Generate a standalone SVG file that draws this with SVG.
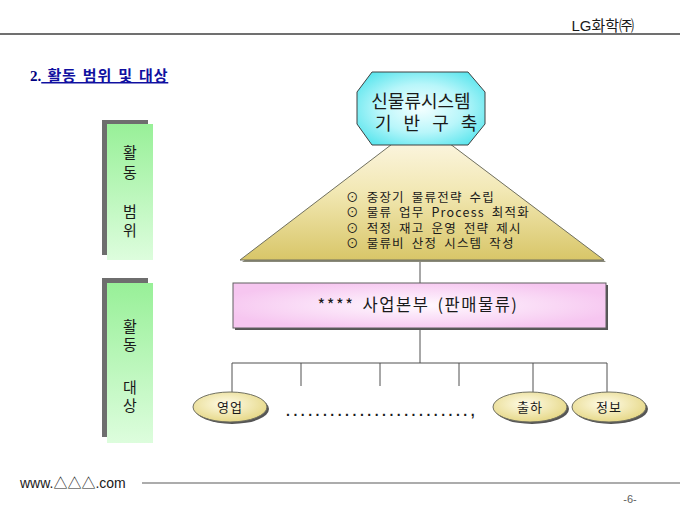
<svg xmlns="http://www.w3.org/2000/svg" width="680" height="510" viewBox="0 0 680 510">
<defs>
<style>
.k{font-family:"Noto Sans CJK KR","Liberation Sans",sans-serif;fill:#1a1a1a}
.ln{stroke:#505050;stroke-width:1;fill:none}
.sh{fill:#6e6e6e}
</style>
<radialGradient id="gOct" cx="50%" cy="50%" r="60%">
<stop offset="0" stop-color="#f4ffff"/>
<stop offset="0.55" stop-color="#b8f6fa"/>
<stop offset="1" stop-color="#5ee6ee"/>
</radialGradient>
<linearGradient id="gTri" x1="0" y1="0" x2="0" y2="1">
<stop offset="0" stop-color="#fffaf0"/>
<stop offset="0.5" stop-color="#f2e8b4"/>
<stop offset="1" stop-color="#d8c668"/>
</linearGradient>
<radialGradient id="gPink" cx="50%" cy="50%" r="55%">
<stop offset="0" stop-color="#fffaff"/>
<stop offset="1" stop-color="#f6c6f0"/>
</radialGradient>
<linearGradient id="gGreen" x1="0" y1="0" x2="0" y2="1">
<stop offset="0" stop-color="#98f098"/>
<stop offset="1" stop-color="#ddfddd"/>
</linearGradient>
<radialGradient id="gOval" cx="45%" cy="40%" r="60%">
<stop offset="0" stop-color="#fffce8"/>
<stop offset="1" stop-color="#e6d888"/>
</radialGradient>
</defs>

<!-- header -->
<text x="634" y="31" text-anchor="end" font-family="Liberation Sans, Noto Sans CJK KR, sans-serif" font-size="15" fill="#1a1a1a">LG화학㈜</text>
<line x1="0" y1="34" x2="680" y2="34" stroke="#404040" stroke-width="1.5"/>

<!-- title -->
<text x="30" y="81" font-size="15" font-weight="bold" fill="#000080"><tspan font-family="Liberation Serif, serif">2.</tspan><tspan font-family="Noto Sans CJK KR, sans-serif" fill="#1010a0" text-decoration="underline" letter-spacing="0.8" word-spacing="2"> 활동 범위 및 대상</tspan></text>

<!-- left boxes -->
<g id="scope">
<rect class="sh" x="102" y="120" width="46" height="135" fill="#808080"/>
<rect x="107" y="124" width="46" height="136" fill="url(#gGreen)"/>
<text class="k" font-size="15" text-anchor="middle"><tspan x="130" y="158">활</tspan><tspan x="130" y="178">동</tspan><tspan x="130" y="217">범</tspan><tspan x="130" y="236">위</tspan></text>
</g>
<g id="target">
<rect class="sh" x="102" y="278" width="46" height="159" fill="#808080"/>
<rect x="107" y="283" width="46" height="160" fill="url(#gGreen)"/>
<text class="k" font-size="15" text-anchor="middle"><tspan x="130" y="332">활</tspan><tspan x="130" y="350">동</tspan><tspan x="130" y="393">대</tspan><tspan x="130" y="411">상</tspan></text>
</g>

<!-- connectors -->
<g id="connectors" class="ln">
<line x1="420" y1="260" x2="420" y2="283"/>
<line x1="420" y1="330" x2="420" y2="363"/>
<line x1="232" y1="363" x2="607" y2="363"/>
<line x1="232" y1="363" x2="232" y2="392"/>
<line x1="301" y1="363" x2="301" y2="386"/>
<line x1="380" y1="363" x2="380" y2="386"/>
<line x1="459" y1="363" x2="459" y2="386"/>
<line x1="533" y1="363" x2="533" y2="392"/>
<line x1="607" y1="363" x2="607" y2="392"/>
</g>

<!-- triangle -->
<g id="tasks">
<polygon points="423,124 242,262 606,262" fill="#8a8a7a"/>
<polygon points="421,122 240,260 604,260" fill="url(#gTri)" stroke="#707060" stroke-width="1"/>
<g class="k" font-size="12.5" letter-spacing="1.2" word-spacing="3">
<text x="346" y="202">⊙ 중장기 물류전략 수립</text>
<text x="346" y="217">⊙ 물류 업무 Process 최적화</text>
<text x="346" y="233">⊙ 적정 재고 운영 전략 제시</text>
<text x="346" y="248">⊙ 물류비 산정 시스템 작성</text>
</g>
</g>

<!-- octagon -->
<g id="base">
<polygon points="372,72 468,72 485,92 485,124 468,145 372,145 357,124 357,92" fill="url(#gOct)" stroke="#404040" stroke-width="1"/>
<text class="k" font-size="18" text-anchor="middle" x="421" y="108">신물류시스템</text>
<text class="k" font-size="18" x="375" y="130" word-spacing="8">기 반 구 축</text>
</g>

<!-- business unit -->
<g id="unit">
<rect x="235" y="285" width="373" height="45" fill="#555"/>
<rect x="233" y="283" width="373" height="45" fill="url(#gPink)" stroke="#606060" stroke-width="1"/>
<text class="k" font-size="16.5" text-anchor="middle" x="418" y="311" letter-spacing="1.5" word-spacing="3">**** 사업본부 (판매물류)</text>
</g>

<!-- ovals -->
<g id="sales">
<ellipse cx="232" cy="409" rx="37" ry="15" fill="#555"/>
<ellipse cx="230" cy="407" rx="37" ry="15" fill="url(#gOval)" stroke="#707060" stroke-width="1"/>
<text class="k" font-size="13" text-anchor="middle" x="230" y="412" letter-spacing="1">영업</text>
</g>
<g id="shipping">
<ellipse cx="532" cy="409" rx="37" ry="15" fill="#555"/>
<ellipse cx="530" cy="407" rx="37" ry="15" fill="url(#gOval)" stroke="#707060" stroke-width="1"/>
<text class="k" font-size="13" text-anchor="middle" x="530" y="412" letter-spacing="1">출하</text>
</g>
<g id="info">
<ellipse cx="611" cy="409" rx="37" ry="15" fill="#555"/>
<ellipse cx="609" cy="407" rx="37" ry="15" fill="url(#gOval)" stroke="#707060" stroke-width="1"/>
<text class="k" font-size="13" text-anchor="middle" x="609" y="412" letter-spacing="1">정보</text>
</g>
<text x="286" y="416" font-family="Liberation Sans, sans-serif" font-size="14" font-weight="bold" letter-spacing="3.5" fill="#1a1a1a">.........................,</text>

<!-- footer -->
<text x="20" y="488" font-family="Liberation Sans, Noto Sans CJK KR, sans-serif" font-size="14" fill="#1a1a1a">www.△△△.com</text>
<line x1="142" y1="483" x2="680" y2="483" stroke="#909090" stroke-width="1.5"/>
<text x="630" y="503" text-anchor="middle" font-family="Liberation Sans, sans-serif" font-size="11" fill="#606060">-6-</text>
</svg>
